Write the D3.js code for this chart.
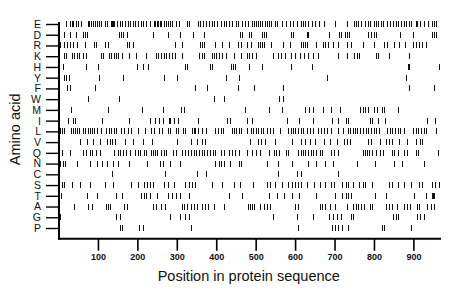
<!DOCTYPE html>
<html><head><meta charset="utf-8">
<script src="https://cdn.jsdelivr.net/npm/d3@7"></script>
<style>
html,body{margin:0;padding:0;background:#fff;}
svg{display:block;font-family:"Liberation Sans",Arial,sans-serif;}
</style></head>
<body>
<svg id="chart" width="460" height="299"></svg>
<script>
const aminoAcids = ["E","D","R","K","H","Y","F","W","M","I","L","V","Q","N","C","S","T","A","G","P"];
const xTickValues = [100,200,300,400,500,600,700,800,900];
const proteinLength = 970;
const xTitle = "Position in protein sequence";
const yTitle = "Amino acid";

const posE = [18,28,33,38,44,50,58,74,78,83,88,93,98,103,108,118,123,134,136,138,141,148,155,162,168,175,181,188,194,201,208,215,222,231,242,245,249,253,257,261,268,272,277,282,288,297,305,325,331,354,360,366,373,381,388,395,403,411,419,425,432,440,451,456,466,474,481,490,495,500,506,511,517,523,528,535,540,549,555,566,576,587,595,606,615,620,626,633,642,650,660,674,702,731,750,755,760,767,777,784,790,799,805,811,817,824,834,841,848,856,862,868,875,882,888,895,906,910,917,927,936,946,951,957];
const posD = [13,30,45,63,68,73,153,158,163,173,239,278,309,341,369,460,465,484,488,517,522,526,589,595,629,633,686,711,717,726,731,736,785,792,799,805,866,898,946,951,957];
const posR = [3,15,22,30,37,47,68,90,96,118,126,173,180,188,295,314,360,364,369,398,415,432,456,462,478,488,505,510,515,522,539,570,587,616,621,626,631,654,671,677,684,697,709,731,743,771,801,826,833,850,864,878,898,906,915,923,931];
const posK = [13,20,35,40,47,53,62,69,108,114,128,134,140,145,151,162,180,197,221,246,253,259,267,273,280,288,295,314,356,363,369,388,394,400,407,415,425,445,464,478,483,490,502,544,557,564,574,589,599,612,623,632,646,659,709,731,750,757,763,805,811,839,889];
const posH = [11,69,101,200,214,228,321,327,383,389,437,442,447,484,517,589,642,887,890,964];
const posY = [1,13,20,26,102,163,267,301,425,459,682,881];
const posF = [21,28,92,347,377,454,496,570,889,953];
const posW = [75,153,394,419,560,569];
const posM = [32,125,211,265,311,317,472,534,566,625,634,645,670,690,713,765,771,777,785,801,808,820,826,862];
const posI = [25,37,42,110,178,231,245,254,266,279,283,292,304,355,427,434,478,490,579,611,645,693,710,729,735,790,796,809,828,934,954];
const posL = [2,5,9,13,32,37,41,47,52,63,68,74,80,85,91,97,108,121,128,134,140,146,159,167,176,184,201,220,235,242,256,263,278,284,297,303,315,322,339,343,347,354,363,373,398,405,411,417,439,445,451,457,464,478,488,494,500,506,513,519,530,537,544,561,582,589,595,601,608,615,620,629,637,646,658,665,674,680,692,709,722,733,740,746,752,758,765,773,779,785,792,799,806,813,834,841,847,853,860,866,877,900,906,912,919,926,932,957];
const posV = [55,72,88,104,124,130,136,144,168,190,214,238,301,337,352,364,371,486,507,513,523,549,591,615,626,637,650,674,688,705,723,731,740,786,793,815,830,839,847,864,885,906,917,923];
const posQ = [9,30,63,69,79,85,94,104,142,151,156,163,172,182,193,201,207,216,222,235,239,244,249,261,267,273,290,298,314,320,329,337,343,349,356,363,369,377,385,391,398,411,419,432,439,447,457,478,490,500,511,534,547,552,559,576,583,608,615,620,626,633,640,646,654,663,669,692,699,708,771,777,782,788,794,805,816,824,847,851,860,877,883,906,912,962];
const posN = [4,11,17,47,80,97,110,123,139,152,178,224,258,265,284,308,396,406,412,419,434,457,464,530,557,591,633,654,675,697,757,802,851,872,927];
const posC = [135,271,351,375,556,604,616,708];
const posS = [9,15,35,55,79,117,138,184,201,216,224,231,239,267,278,293,322,331,339,347,390,415,445,461,494,528,536,549,566,583,591,599,608,616,631,648,663,677,692,699,718,729,735,748,763,771,777,794,839,847,861,877,893,915,921,948,954,965];
const posT = [7,73,98,147,160,209,216,222,231,250,278,288,297,307,331,432,466,533,553,572,591,610,654,702,719,729,735,743,802,830,902,932,946,949,952];
const posA = [40,74,85,120,125,131,167,173,239,248,259,271,312,318,326,335,343,352,363,371,378,394,420,481,485,491,496,511,522,530,536,599,608,663,669,677,688,701,731,748,754,760,767,774,790,796,830,839,847,858,875,883,892,909,915,934,944,951];
const posG = [3,146,155,282,307,320,332,545,606,646,685,696,705,716,741,748,848,855,862,909,917,928];
const posP = [155,161,205,214,335,607,693,700,708,720,733,820,825,895];

const positions = {E:posE,D:posD,R:posR,K:posK,H:posH,Y:posY,F:posF,W:posW,M:posM,I:posI,
  L:posL,V:posV,Q:posQ,N:posN,C:posC,S:posS,T:posT,A:posA,G:posG,P:posP};

const svg = d3.select("#chart");
const x = d3.scaleLinear().domain([0, proteinLength]).range([58.5, 441]);
const y = d3.scalePoint().domain(aminoAcids).range([24, 228]);
const step = y.step();
const xAxisY = y(aminoAcids[aminoAcids.length-1]) + step;

// marks
const marks = [];
aminoAcids.forEach(aa => positions[aa].forEach(p => marks.push({aa, p})));
svg.append("g").attr("shape-rendering", "crispEdges").selectAll("rect").data(marks).join("rect")
  .attr("x", d => Math.round(x(d.p)))
  .attr("y", d => Math.round(y(d.aa) - 3))
  .attr("width", 1)
  .attr("height", 6)
  .attr("fill", "#111");

// axes
const xAxis = svg.append("g").attr("transform", `translate(0,${xAxisY})`)
  .call(d3.axisBottom(x).tickValues(xTickValues).tickSize(12).tickPadding(3).tickSizeOuter(0));
xAxis.select(".domain").remove();
xAxis.selectAll(".tick line").attr("stroke", "#000").attr("stroke-width", 1.6);
xAxis.selectAll(".tick text").attr("font-size", 9).attr("font-weight", "bold")
  .attr("font-family", "Liberation Sans, Arial, sans-serif").attr("fill", "#111");

const yAxis = svg.append("g").attr("transform", `translate(${x(0)+0.5},0)`)
  .call(d3.axisLeft(y).tickSize(13).tickPadding(5).tickSizeOuter(0));
yAxis.select(".domain").remove();
yAxis.selectAll(".tick line").attr("stroke", "#000").attr("stroke-width", 1.4);
yAxis.selectAll(".tick text").attr("font-size", 10.5)
  .attr("font-family", "Liberation Sans, Arial, sans-serif").attr("fill", "#111");

// axis lines
svg.append("line").attr("x1", x(0)+0.5).attr("x2", x(0)+0.5)
  .attr("y1", y(aminoAcids[0]) - 2).attr("y2", xAxisY + 1)
  .attr("stroke", "#000").attr("stroke-width", 2);
svg.append("line").attr("x1", x(0)-0.5).attr("x2", x(proteinLength))
  .attr("y1", xAxisY).attr("y2", xAxisY)
  .attr("stroke", "#000").attr("stroke-width", 2);

// titles
svg.append("text").attr("x", (x(0)+x(proteinLength))/2 - 1).attr("y", 281)
  .attr("text-anchor", "middle").attr("font-size", 14.5).attr("fill", "#111").text(xTitle);
svg.append("text").attr("transform", `translate(20,${(y(aminoAcids[0])+xAxisY)/2 - 2}) rotate(-90)`)
  .attr("text-anchor", "middle").attr("font-size", 14.5).attr("fill", "#111").text(yTitle);
</script>
</body></html>
